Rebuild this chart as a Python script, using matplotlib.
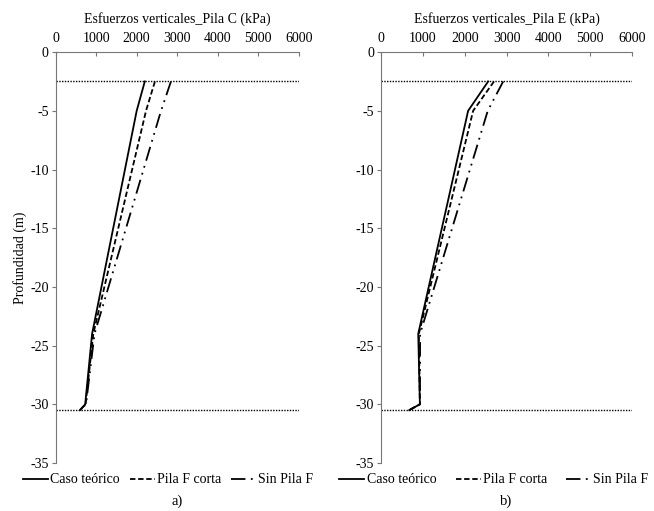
import matplotlib.pyplot as plt
from matplotlib.lines import Line2D

plt.rcParams["font.family"] = ["Liberation Serif", "DejaVu Serif"]
plt.rcParams["font.size"] = 10
plt.rcParams["axes.unicode_minus"] = False

# depth (m) and vertical stress (kPa)
DEPTH = [-2.5, -5.0, -24.0, -30.0, -30.5]

C_TEORICO = [2200, 2000, 900, 730, 600]
C_CORTA = [2450, 2230, 930, 740, 600]
C_SIN = [2845, 2600, 960, 750, 600]

E_TEORICO = [2560, 2080, 885, 925, 670]
E_CORTA = [2700, 2200, 900, 925, 670]
E_SIN = [2920, 2550, 930, 925, 670]

LIMITS = [-2.5, -30.5]
X_TICKS = [0, 1000, 2000, 3000, 4000, 5000, 6000]
Y_TICKS = [0, -5, -10, -15, -20, -25, -30, -35]

LABELS = ["Caso teórico", "Pila F corta", "Sin Pila F"]
STYLES = ["-", (0, (3, 1.5)), (0, (8, 3, 1, 3, 1, 3))]
AXIS_GREY = "#777777"


def draw_panel(ax, title, series, tag, colspace, leg_x, ylabel=None):
    for x, ls in zip(series, STYLES):
        ax.plot(x, DEPTH, color="black", ls=ls, lw=1.3)
    for d in LIMITS:
        ax.axhline(d, color="black", ls=(0, (1, 1)), lw=1.0)

    ax.set_xlim(0, 6000)
    ax.set_ylim(-35, 0)
    ax.set_xticks(X_TICKS)
    ax.set_yticks(Y_TICKS)
    ax.xaxis.set_ticks_position("top")
    ax.xaxis.set_label_position("top")
    ax.set_xlabel(title, labelpad=7)
    if ylabel:
        ax.set_ylabel(ylabel, labelpad=2)

    for s in ["right", "bottom"]:
        ax.spines[s].set_visible(False)
    for s in ["top", "left"]:
        ax.spines[s].set_color(AXIS_GREY)
    ax.tick_params(axis="x", direction="in", length=3, color=AXIS_GREY, pad=5)
    ax.tick_params(axis="y", direction="out", length=3, color=AXIS_GREY, pad=2)

    handles = [Line2D([], [], color="black", ls=ls, lw=1.3) for ls in STYLES]
    ax.legend(handles, LABELS, loc="upper center", bbox_to_anchor=(leg_x, -0.012),
              ncol=3, frameon=False, handlelength=1.8, handletextpad=0.15,
              columnspacing=colspace, borderaxespad=0)
    ax.text(0.5, -0.093, tag, transform=ax.transAxes, ha="center", va="center",
            fontsize=10.5)


fig = plt.figure(figsize=(6.54, 5.11), dpi=100)
ax_c = fig.add_axes([0.085, 0.094, 0.372, 0.804])
ax_e = fig.add_axes([0.583, 0.094, 0.383, 0.804])

draw_panel(ax_c, "Esfuerzos verticales_Pila C (kPa)", [C_TEORICO, C_CORTA, C_SIN], "a)",
           0.7, 0.462, ylabel="Profundidad (m)")
draw_panel(ax_e, "Esfuerzos verticales_Pila E (kPa)", [E_TEORICO, E_CORTA, E_SIN], "b)",
           1.4, 0.45)

fig.savefig("out.png", dpi=100)
